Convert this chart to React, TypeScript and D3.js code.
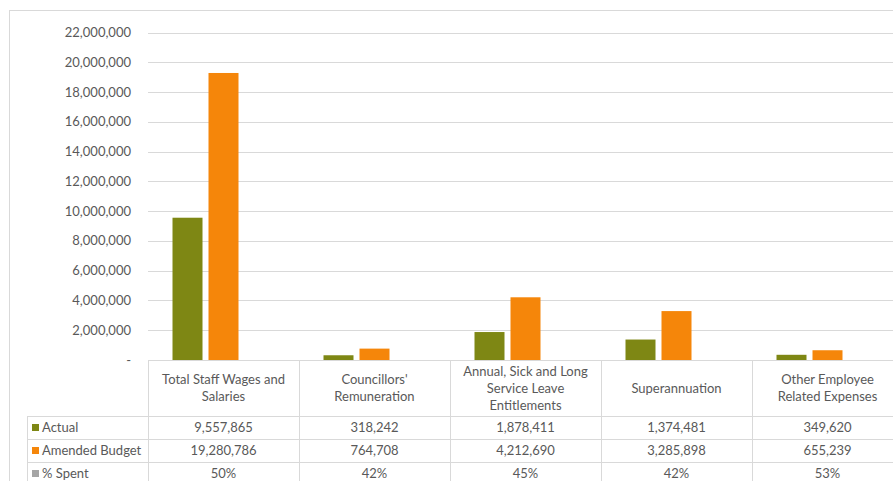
import React from "react";
import * as d3 from "d3";

const categories = [
  "Total Staff Wages and\nSalaries",
  "Councillors'\nRemuneration",
  "Annual, Sick and Long\nService Leave\nEntitlements",
  "Superannuation",
  "Other Employee\nRelated Expenses",
];
const actual = [9557865, 318242, 1878411, 1374481, 349620];
const amendedBudget = [19280786, 764708, 4212690, 3285898, 655239];
const pctSpent = [0.5, 0.42, 0.45, 0.42, 0.53];
const yTicks = [0, 2000000, 4000000, 6000000, 8000000, 10000000, 12000000, 14000000, 16000000, 18000000, 20000000, 22000000];

const W = 893;
const H = 481;
const FONT = "Lato, 'Open Sans', sans-serif";
const TEXT = "#595959";
const GRID = "#d9d9d9";
const GREEN = "#7e8714";
const ORANGE = "#f5860a";
const GREY = "#a5a5a5";

export default function App() {
  const left = 148;
  const bandW = 151;
  const x = d3.scaleBand<number>().domain(d3.range(categories.length)).range([left, left + bandW * categories.length]);
  const y = d3.scaleLinear().domain([0, 22000000]).range([360, 32.5]);
  const inner = d3.scaleBand<number>().domain([0, 1, 2]).range([24.5, bandW - 24.5]).paddingInner(0.1667);
  const fmt = d3.format(",");
  const pfmt = d3.format(".0%");

  const tableTop = 360;
  const headerBottom = 416;
  const rowH = 23;
  const legendLeft = 27;
  const rows = [
    { name: "Actual", color: GREEN, vals: actual.map(fmt) },
    { name: "Amended Budget", color: ORANGE, vals: amendedBudget.map(fmt) },
    { name: "% Spent", color: GREY, vals: pctSpent.map(pfmt) },
  ];
  const right = left + bandW * categories.length;

  return (
    <svg width={W} height={H} style={{ position: "absolute", left: 0, top: 0, background: "#fff" }} fontFamily={FONT}>
      <rect x={9.5} y={10.5} width={W + 20} height={H + 20} fill="#fff" stroke={GRID} strokeWidth={1} />
      {yTicks.map((t) => (
        <g key={t}>
          {t > 0 && <line x1={left} x2={right} y1={Math.round(y(t)) + 0.5} y2={Math.round(y(t)) + 0.5} stroke={GRID} strokeWidth={1} />}
          <text x={131} y={y(t)} dy="0.35em" textAnchor="end" fontSize={13} fill={TEXT}>
            {t === 0 ? "-" : fmt(t)}
          </text>
        </g>
      ))}
      {categories.map((_, i) => (
        <g key={i} transform={`translate(${x(i)},0)`}>
          <rect x={inner(0)} width={inner.bandwidth()} y={y(actual[i])} height={y(0) - y(actual[i])} fill={GREEN} />
          <rect x={inner(1)} width={inner.bandwidth()} y={y(amendedBudget[i])} height={y(0) - y(amendedBudget[i])} fill={ORANGE} />
        </g>
      ))}
      {/* table grid */}
      <line x1={left} x2={W + 20} y1={tableTop + 0.5} y2={tableTop + 0.5} stroke={GRID} />
      {[0, 1, 2, 3].map((r) => (
        <line key={r} x1={legendLeft} x2={W + 20} y1={headerBottom + r * rowH + 0.5} y2={headerBottom + r * rowH + 0.5} stroke={GRID} />
      ))}
      <line x1={legendLeft + 0.5} x2={legendLeft + 0.5} y1={headerBottom} y2={H + 20} stroke={GRID} />
      {d3.range(categories.length + 1).map((i) => (
        <line key={i} x1={left + i * bandW + 0.5} x2={left + i * bandW + 0.5} y1={tableTop} y2={H + 20} stroke={GRID} />
      ))}
      {categories.map((c, i) => {
        const lines = c.split("\n");
        const cx = (x(i) as number) + bandW / 2;
        const mid = (tableTop + headerBottom) / 2;
        const lh = 17;
        return (
          <text key={i} x={cx} textAnchor="middle" fontSize={13} fill={TEXT}>
            {lines.map((l, k) => (
              <tspan key={k} x={cx} y={mid + (k - (lines.length - 1) / 2) * lh} dy="0.35em">
                {l}
              </tspan>
            ))}
          </text>
        );
      })}
      {rows.map((r, ri) => {
        const cy = headerBottom + ri * rowH + rowH / 2;
        return (
          <g key={r.name}>
            <rect x={32} y={cy - 3.5} width={7} height={7} fill={r.color} />
            <text x={42} y={cy} dy="0.35em" fontSize={13} fill={TEXT}>
              {r.name}
            </text>
            {r.vals.map((v, i) => (
              <text key={i} x={(x(i) as number) + bandW / 2} y={cy} dy="0.35em" textAnchor="middle" fontSize={13} fill={TEXT}>
                {v}
              </text>
            ))}
          </g>
        );
      })}
    </svg>
  );
}
